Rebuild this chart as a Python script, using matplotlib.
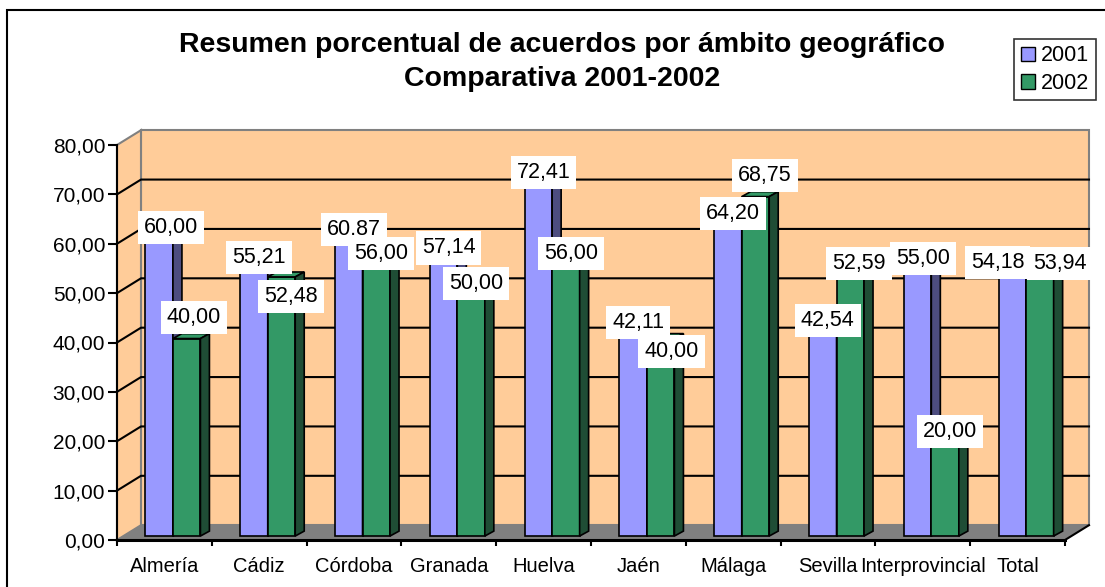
import matplotlib.pyplot as plt
from matplotlib.patches import Polygon, Rectangle, Patch

plt.rcParams['font.family'] = ['Liberation Sans', 'DejaVu Sans']

categories = ["Almería", "Cádiz", "Córdoba", "Granada", "Huelva",
              "Jaén", "Málaga", "Sevilla", "Interprovincial", "Total"]
values_2001 = [60.00, 55.21, 60.87, 57.14, 72.41, 42.11, 64.20, 42.54, 55.00, 54.18]
values_2002 = [40.00, 52.48, 56.00, 50.00, 56.00, 40.00, 68.75, 52.59, 20.00, 53.94]
y_ticks = [0, 10, 20, 30, 40, 50, 60, 70, 80]

BLUE, BLUE_SIDE = '#9999FF', '#4D4D80'
GREEN, GREEN_SIDE = '#339966', '#1F4D35'
WALL, FLOOR = '#FFCC99', '#808080'

# fake 3d: offsets in data units (x: 1 unit = one category, y: value units)
BACK_X, BACK_Y = 0.253, 3.0     # back wall shift
BAR_BASE = 0.8                  # bars sit a bit into the floor
DEPTH_X, DEPTH_Y = 0.095, 1.0   # bar depth
W = 0.29
BLUE_X0 = 0.30

# label nudges (x in category units, y in value units), default above bar
LBL_DX, LBL_DY = 0.053, 2.0
nudge_2001 = {0: (0.07, 1.3), 9: (-0.21, 0.0)}
nudge_2002 = {0: (0.025, 3.0), 1: (0.05, -5.1), 5: (0.06, -3.9),
              6: (0.045, 3.0), 7: (0.04, 1.5), 9: (0.16, 0.0)}


def fmt(v):
    return "{:.2f}".format(v).replace('.', ',')


def draw_bar(ax, x0, v, face, side, z):
    top = BAR_BASE + v
    ax.add_patch(Rectangle((x0, BAR_BASE), W, v, facecolor=face, edgecolor='black',
                           lw=1.2, zorder=z, clip_on=False))
    ax.add_patch(Polygon([(x0, top), (x0 + W, top), (x0 + W + DEPTH_X, top + DEPTH_Y),
                          (x0 + DEPTH_X, top + DEPTH_Y)], closed=True, facecolor=face,
                         edgecolor='black', lw=1.2, zorder=z, clip_on=False))
    ax.add_patch(Polygon([(x0 + W, BAR_BASE), (x0 + W + DEPTH_X, BAR_BASE + DEPTH_Y),
                          (x0 + W + DEPTH_X, top + DEPTH_Y), (x0 + W, top)], closed=True,
                         facecolor=side, edgecolor='black', lw=1.2, zorder=z, clip_on=False))


fig = plt.figure(figsize=(11.05, 5.87), dpi=100)
ax = fig.add_axes([117 / 1105, 47 / 587, 948 / 1105, 395 / 587])
ax.set_xlim(0, 10)
ax.set_ylim(0, 80)
ax.patch.set_visible(False)

n = len(categories)

# walls and floor
ax.add_patch(Rectangle((BACK_X, BACK_Y), n, 80, facecolor=WALL, edgecolor='#808080',
                       lw=1.5, zorder=0, clip_on=False))
ax.add_patch(Polygon([(0, 0), (0, 80), (BACK_X, 80 + BACK_Y), (BACK_X, BACK_Y)], closed=True,
                     facecolor=WALL, edgecolor='#808080', lw=1.5, zorder=0, clip_on=False))
ax.add_patch(Polygon([(0, 0), (n, 0), (n + BACK_X, BACK_Y), (BACK_X, BACK_Y)], closed=True,
                     facecolor=FLOOR, edgecolor='none', zorder=1, clip_on=False))
ax.plot([n, n + BACK_X], [0, BACK_Y], color='black', lw=1.5, zorder=1, clip_on=False)
for v in y_ticks[1:-1]:
    ax.plot([0, BACK_X, n + BACK_X], [v, v + BACK_Y, v + BACK_Y], color='black',
            lw=1.5, zorder=1, clip_on=False)

# bars
for i in range(n):
    draw_bar(ax, i + BLUE_X0, values_2001[i], BLUE, BLUE_SIDE, 3)
    draw_bar(ax, i + BLUE_X0 + W, values_2002[i], GREEN, GREEN_SIDE, 4)

# data labels
for i in range(n):
    for j, (vals, nudge) in enumerate([(values_2001, nudge_2001), (values_2002, nudge_2002)]):
        v = vals[i]
        txt = fmt(v)
        if j == 0 and i == 2:
            txt = "60.87"  # written with a point in the original
        ddx, ddy = nudge.get(i, (0, 0))
        cx = i + BLUE_X0 + W * j + W / 2 + LBL_DX + ddx
        cy = v + LBL_DY + ddy
        ax.text(cx, cy, txt, ha='center', va='center', fontsize=15.5, zorder=10,
                bbox=dict(boxstyle='square,pad=0.28', facecolor='white', edgecolor='none'))

# axes
for s in ['top', 'right']:
    ax.spines[s].set_visible(False)
ax.spines['left'].set_linewidth(1.5)
ax.spines['bottom'].set_linewidth(2.2)
ax.spines['left'].set_zorder(5)
ax.spines['bottom'].set_zorder(5)
ax.set_yticks(y_ticks)
ax.set_yticklabels([fmt(v) for v in y_ticks])
ax.tick_params(axis='y', direction='out', length=6.5, width=1.5, pad=2, labelsize=15)
ax.set_xticks(range(n + 1))
ax.set_xticklabels([])
ax.tick_params(axis='x', which='major', direction='out', length=4.5, width=1.5)
ax.set_xticks([i + 0.5 for i in range(n)], minor=True)
ax.set_xticklabels(categories, minor=True)
ax.tick_params(axis='x', which='minor', length=0, pad=12, labelsize=14.5)

# title
fig.text(562 / 1105, 1 - 45 / 587, "Resumen porcentual de acuerdos por ámbito geográfico",
         ha='center', va='center', fontsize=20.5, fontweight='bold')
fig.text(562 / 1105, 1 - 79 / 587, "Comparativa 2001-2002",
         ha='center', va='center', fontsize=20.5, fontweight='bold')

# legend
handles = [Patch(facecolor=BLUE, edgecolor='black'), Patch(facecolor=GREEN, edgecolor='black')]
leg = fig.legend(handles, ['2001', '2002'], loc='upper right',
                 bbox_to_anchor=(1096 / 1105, 1 - 39 / 587), fontsize=15.5, frameon=True,
                 fancybox=False, handlelength=0.65, handleheight=0.65, handletextpad=0.3,
                 labelspacing=0.3, borderpad=0.3, borderaxespad=0)
leg.get_frame().set_edgecolor('black')
leg.get_frame().set_linewidth(1.2)

# outer chart border (only left and top show in the crop)
fig.patches.append(Rectangle((7 / 1105, -0.1), 1.2, 1.1 - 10 / 587, transform=fig.transFigure,
                             fill=False, edgecolor='black', lw=1.5))

fig.savefig('out.png', dpi=100)
